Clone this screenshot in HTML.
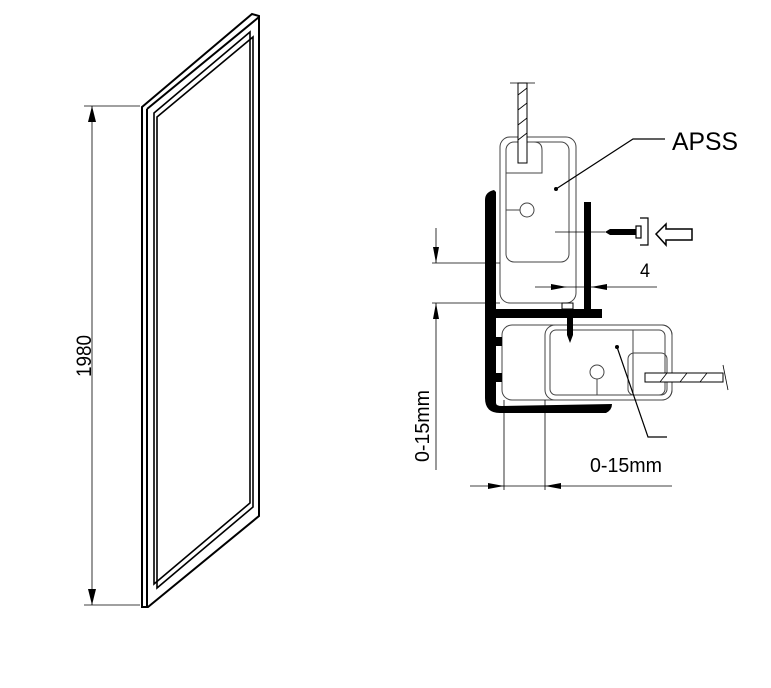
<!DOCTYPE html>
<html><head><style>body{margin:0;background:#fff}svg{display:block}</style></head><body>
<svg width="771" height="688" viewBox="0 0 771 688" xmlns="http://www.w3.org/2000/svg" font-family="Liberation Sans, sans-serif">
<g fill="none" stroke="#000" stroke-width="2">
<polygon points="142,107 252,14 259,16 259,516 148,607 142,607"/>
<line x1="147" y1="109" x2="259" y2="17"/>
<line x1="147" y1="109" x2="147" y2="607"/>
<polygon points="154,113 250,32 250,503 154,584" stroke-width="1.6"/>
<polygon points="157,117 253,37 253,507 157,588" stroke-width="1.6"/>
</g>
<g stroke="#000" stroke-width="0.8" fill="none">
<line x1="84" y1="106" x2="140" y2="106"/><line x1="84" y1="605" x2="140" y2="605"/>
<line x1="92" y1="106" x2="92" y2="605"/>
</g>
<polygon points="92,106 88,122 96,122" fill="#000"/><polygon points="92,605 88,589 96,589" fill="#000"/>
<text x="0" y="0" font-size="21" textLength="42" lengthAdjust="spacingAndGlyphs" transform="translate(91,377) rotate(-90)">1980</text>

<g fill="none" stroke="#444" stroke-width="1">
<rect x="500" y="137" width="76" height="166" rx="10"/>
<rect x="506" y="142" width="63" height="120" rx="8"/>
<path d="M506,173 H542 V150 Q542,142 534,142"/>
<circle cx="527" cy="210" r="7"/>
<line x1="506" y1="210" x2="520" y2="210"/>
<rect x="502" y="325" width="170" height="75" rx="10"/>
<rect x="545" y="325" width="127" height="75" rx="10"/>
<rect x="550" y="330" width="115" height="65" rx="6"/>
<line x1="633" y1="330" x2="633" y2="395"/>
<rect x="628" y="353" width="39" height="42" rx="6"/>
<circle cx="597" cy="372" r="7"/>
<line x1="597" y1="379" x2="597" y2="395"/>
</g>
<g stroke="#000" stroke-width="1" fill="#fff">
<rect x="518" y="83" width="9" height="80"/>
<rect x="645" y="373" width="78" height="9"/>
</g>
<g stroke="#000" stroke-width="0.8">
<line x1="518" y1="95" x2="527" y2="88"/><line x1="518" y1="110" x2="527" y2="103"/><line x1="518" y1="125" x2="527" y2="118"/><line x1="518" y1="140" x2="527" y2="133"/>
<line x1="660" y1="382" x2="667" y2="373"/><line x1="680" y1="382" x2="687" y2="373"/><line x1="700" y1="382" x2="707" y2="373"/>
<line x1="510" y1="83" x2="535" y2="83"/><line x1="723" y1="365" x2="728" y2="390"/>
</g>
<g fill="#000">
<path d="M485,200 Q485,192 494,190 L496,192 L496,309 L602,309 L602,318 L496,318 L496,403 Q496,406 502,406 L612,404 Q612,410 606,413 L500,413 Q485,413 485,398 Z"/>
<rect x="584" y="202" width="7" height="107"/>
<rect x="496" y="337" width="6" height="9"/><rect x="496" y="373" width="6" height="9"/>
</g>
<g stroke="#000" stroke-width="1" fill="#fff">
<rect x="562" y="303" width="11" height="6"/>
</g>
<path d="M567,318 L573,318 L573,335 L570,343 L567,335 Z" fill="#000"/>
<path d="M605,232 L610,229 L636,229 L636,235 L610,235 Z" fill="#000"/>
<g stroke="#000" stroke-width="1.2" fill="none">
<path d="M640,218 H648 V245 H640"/><rect x="636" y="226" width="5" height="12"/>
<path d="M656,234 L666,224 L666,229 L692,229 L692,240 L666,240 L666,245 Z" stroke-width="1.5"/>
</g>
<g stroke="#000" stroke-width="1.2" fill="none">
<polyline points="556,189 633,139 665,139"/>
<polyline points="617,347 648,437 667,437"/>
</g>
<circle cx="556" cy="189" r="2" fill="#000"/><circle cx="617" cy="347" r="2" fill="#000"/>
<text x="672" y="150" font-size="25" textLength="66" lengthAdjust="spacingAndGlyphs">APSS</text>
<g stroke="#000" stroke-width="0.8" fill="none">
<line x1="555" y1="232" x2="605" y2="232"/>
<line x1="436" y1="228" x2="436" y2="263"/>
<line x1="436" y1="303" x2="436" y2="470"/>
<line x1="432" y1="263" x2="500" y2="263"/>
<line x1="432" y1="303" x2="500" y2="303"/>
<line x1="535" y1="287" x2="657" y2="287"/>
<line x1="470" y1="486" x2="672" y2="486"/>
<line x1="504" y1="400" x2="504" y2="490"/>
<line x1="545" y1="400" x2="545" y2="490"/>
</g>
<g fill="#000">
<polygon points="436,263 433,247 439,247"/><polygon points="436,303 433,319 439,319"/>
<polygon points="567,287 551,284 551,290"/><polygon points="591,287 607,284 607,290"/>
<polygon points="504,486 488,483 488,489"/><polygon points="545,486 561,483 561,489"/>
</g>
<text x="640" y="277" font-size="19" textLength="10" lengthAdjust="spacingAndGlyphs">4</text>
<text x="590" y="472" font-size="20" textLength="72" lengthAdjust="spacingAndGlyphs">0-15mm</text>
<text x="0" y="0" font-size="20" textLength="72" lengthAdjust="spacingAndGlyphs" transform="translate(429,462) rotate(-90)">0-15mm</text>
</svg>
</body></html>
